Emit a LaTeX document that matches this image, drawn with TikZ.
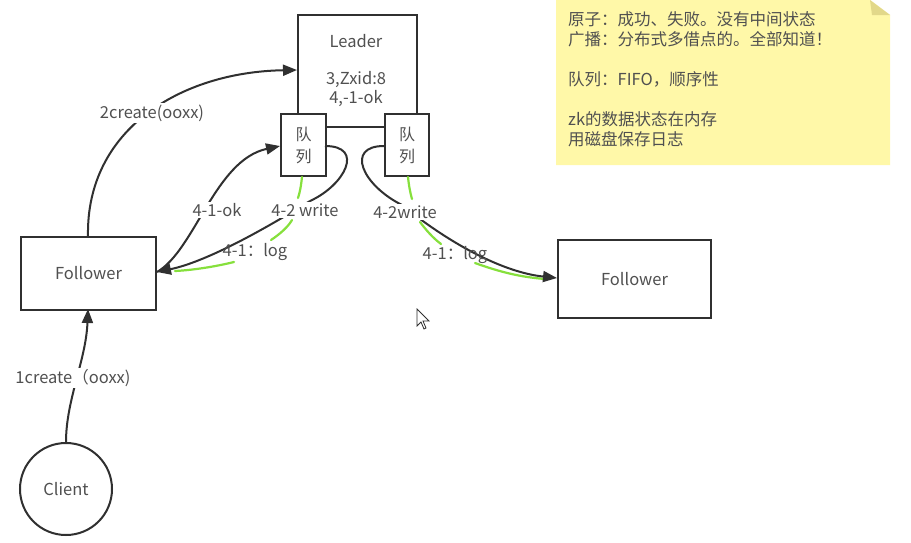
\documentclass[tikz,border=0pt]{standalone}
\usepackage{fontspec}
\setmainfont{Noto Sans CJK SC}
\usetikzlibrary{arrows.meta}
\definecolor{ink}{HTML}{303030}
\definecolor{txt}{HTML}{505050}
\definecolor{hl}{HTML}{86E03C}
\definecolor{note}{HTML}{FFF8A8}
\definecolor{fold}{HTML}{E2D88A}
\tikzset{
  box/.style={draw=ink, line width=2pt, fill=white, text=txt, font=\fontsize{16.5}{19}\selectfont},
  conn/.style={draw=ink, line width=2pt, -{Triangle[length=14pt,width=11pt]}},
  plain/.style={draw=ink, line width=2pt},
  lbl/.style={fill=white, text=txt, inner sep=1.5pt, font=\fontsize{16.5}{19}\selectfont},
  glow/.style={draw=hl, line width=2.2pt, line cap=round},
  notetext/.style={text=txt, align=left, anchor=north west, inner sep=0pt, font=\fontsize{16.5}{20}\selectfont},
}
\begin{document}
\begin{tikzpicture}[x=1pt,y=-1pt]
\useasboundingbox (0,0) rectangle (911,542);
\fill[white] (0,0) rectangle (911,542);

% sticky note
\fill[note] (556,0) -- (870,0) -- (890,15) -- (890,165) -- (556,165) -- cycle;
\fill[fold] (870,0) -- (890,15) -- (872,15) -- cycle;
\node[notetext] (notetxt) at (568,11) {原子：成功、失败。没有中间状态\\广播：分布式多借点的。全部知道！\\[20pt]队列：FIFO，顺序性\\[20pt]zk的数据状态在内存\\用磁盘保存日志};

% leader
\node[box, minimum width=119pt, minimum height=112pt, anchor=north west, inner sep=0pt] (leader) at (297,14) {};
\node[text=txt, font=\fontsize{16.5}{19}\selectfont] (leadername) at (356,41) {Leader};
\node[text=txt, font=\fontsize{16.5}{18.5}\selectfont, align=center] (leaderinfo) at (356,89) {3,Zxid:8\\4,-1-ok};

% queues
\node[box, minimum width=45pt, minimum height=62pt, anchor=north west, inner sep=0pt, align=center, font=\fontsize{16}{22}\selectfont] (q1) at (280,113) {队\\列};
\node[box, minimum width=44pt, minimum height=62pt, anchor=north west, inner sep=0pt, align=center, font=\fontsize{16}{22}\selectfont] (q2) at (384,113) {队\\列};

% followers and client
\node[box, minimum width=135pt, minimum height=73pt, anchor=north west, inner sep=0pt] (f1) at (20,236) {Follower};
\node[box, minimum width=153pt, minimum height=78pt, anchor=north west, inner sep=0pt] (f2) at (557,239) {Follower};
\node[box, circle, minimum size=92pt, inner sep=0pt] (client) at (66,489) {Client};

% coordinates
\coordinate (f1top) at (88,236);
\coordinate (f1bot) at (88,309);
\coordinate (f1in) at (157,272);
\coordinate (leaderin) at (297,70);
\coordinate (q1in) at (280,146);
\coordinate (q1out) at (325,146);
\coordinate (q2out) at (384,146);
\coordinate (f2in) at (557,278);
\coordinate (bendL) at (310,201);
\coordinate (bendR) at (402,205);

% green highlights (under)
\draw[glow] (302,177) .. controls (301,186) and (300,192) .. (298,198);
\draw[glow] (175,271) .. controls (195,270) and (218,266) .. (234,262);
\draw[glow] (271,240) .. controls (280,234) and (288,227) .. (292,220);
\draw[glow] (408,177) .. controls (409,186) and (410,192) .. (412,199);
\draw[glow] (420,222) .. controls (426,230) and (433,238) .. (441,244);
\draw[glow] (475,263) .. controls (500,272) and (520,277) .. (545,279);

% connectors
\draw[conn] (client.north) .. controls (66,400) and (86,360) .. (f1bot);
\draw[conn] (f1top) .. controls (86,130) and (180,72) .. (leaderin);
\draw[conn] (f1in) .. controls (195,250) and (215,160) .. (q1in);
\draw[plain] (q1out) .. controls (365,146) and (345,185) .. (bendL);
\draw[conn] (bendL) .. controls (260,232) and (205,262) .. (f1in);
\draw[plain] (q2out) .. controls (345,146) and (362,185) .. (bendR);
\draw[conn] (bendR) .. controls (445,240) and (500,272) .. (f2in);

% labels
\node[lbl] (l1) at (73,378) {1create（ooxx)};
\node[lbl] (l2) at (152,113) {2create(ooxx)};
\node[lbl] (l3) at (217,210) {4-1-ok};
\node[lbl] (l4) at (305,210) {4-2 write};
\node[lbl, fill=none] (l5) at (255,252) {4-1：log};
\node[lbl] (l6) at (405,212) {4-2write};
\node[lbl, fill=none] (l7) at (455,255) {4-1：log};

% cursor
\draw[ink, line width=0.8pt, fill=white] (417,309) -- (417,326) -- (421,322) -- (424,329) -- (426,328) -- (423,321) -- (429,321) -- cycle;
\end{tikzpicture}
\end{document}
